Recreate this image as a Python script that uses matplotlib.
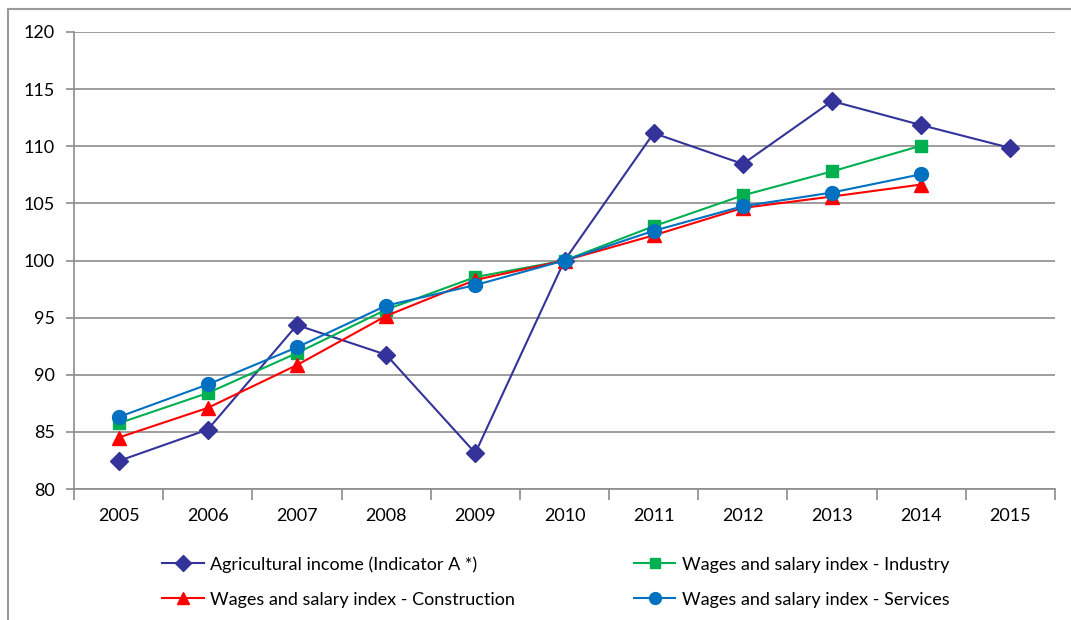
import matplotlib
matplotlib.use("Agg")
import matplotlib.pyplot as plt
from matplotlib.lines import Line2D

years = ["2005", "2006", "2007", "2008", "2009", "2010", "2011", "2012", "2013", "2014", "2015"]
agri = [82.45, 85.2, 94.35, 91.75, 83.15, 100.0, 111.15, 108.45, 113.95, 111.85, 109.85]
industry = [85.75, 88.4, 91.9, 95.7, 98.55, 100.0, 103.0, 105.7, 107.8, 110.05]
construction = [84.5, 87.1, 90.85, 95.15, 98.3, 100.0, 102.2, 104.6, 105.6, 106.65]
services = [86.3, 89.15, 92.4, 96.05, 97.85, 100.0, 102.6, 104.75, 105.95, 107.55]
yticks = [80, 85, 90, 95, 100, 105, 110, 115, 120]

labels = ["Agricultural income (Indicator A *)",
          "Wages and salary index - Industry",
          "Wages and salary index - Construction",
          "Wages and salary index - Services"]

plt.rcParams['font.family'] = ['Lato', 'DejaVu Sans']

fig = plt.figure(figsize=(10.71, 6.2), dpi=100)
ax = fig.add_axes([74/1071, 1-489/620, (1055-74)/1071, (489-32)/620])

grid_c = "#8c8c8c"
x = list(range(len(years)))
l1, = ax.plot(x, agri, color="#333399", marker="D", markersize=9, lw=1.5, label=labels[0], zorder=3)
l2, = ax.plot(x[:len(industry)], industry, color="#00B050", marker="s", markersize=9, lw=1.5, label=labels[1], zorder=4)
l3, = ax.plot(x[:len(construction)], construction, color="#FF0000", marker="^", markersize=10, lw=1.5, label=labels[2], zorder=5)
l4, = ax.plot(x[:len(services)], services, color="#0070C0", marker="o", markersize=10, lw=1.5, label=labels[3], zorder=6)

ax.set_xlim(-0.5, len(years) - 0.5)
ax.set_ylim(80, 120)
ax.set_yticks(yticks)
ax.set_yticklabels([str(v) for v in yticks], fontsize=13)
ax.set_xticks(x)
ax.set_xticklabels(years, fontsize=13)
ax.set_xticks([i - 0.5 for i in range(len(years) + 1)], minor=True)
ax.tick_params(axis='x', which='major', length=0, pad=14)
ax.tick_params(axis='x', which='minor', length=8, color=grid_c, width=1.2)
ax.tick_params(axis='y', length=6, color=grid_c, width=1.2, pad=8)
ax.yaxis.grid(True, color=grid_c, lw=1.2)
ax.set_axisbelow(True)
for s in ["top", "right"]:
    ax.spines[s].set_visible(False)
for s in ["left", "bottom"]:
    ax.spines[s].set_color(grid_c)
    ax.spines[s].set_linewidth(1.2)

leg = fig.legend([l1, l3, l2, l4], [labels[0], labels[2], labels[1], labels[3]],
                 ncol=2, loc="upper left", bbox_to_anchor=(153/1071, 1-547/620),
                 frameon=False, fontsize=13, handlelength=2.3, handletextpad=0.35,
                 columnspacing=6.6, labelspacing=1.05, borderpad=0, markerscale=0.85)

# outer border (top and left)
fig.add_artist(Line2D([8/1071, 8/1071], [0, 1-9/620], color="#9a9a9a", lw=1.5, transform=fig.transFigure))
fig.add_artist(Line2D([8/1071, 1], [1-9/620, 1-9/620], color="#9a9a9a", lw=1.5, transform=fig.transFigure))

fig.savefig("out.png", dpi=100)
